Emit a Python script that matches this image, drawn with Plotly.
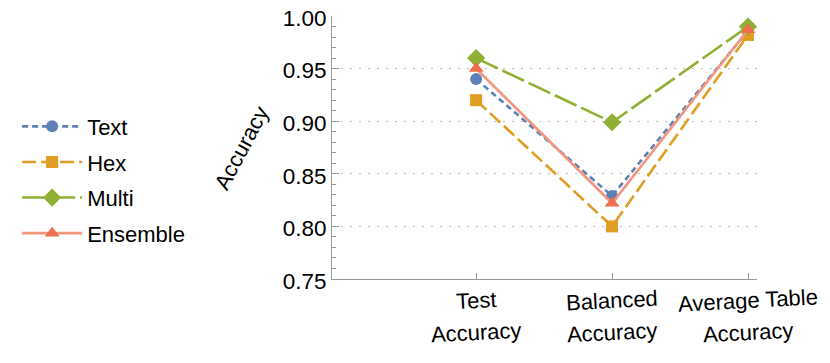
import plotly.graph_objects as go

categories = ["Test Accuracy", "Balanced Accuracy", "Average Table Accuracy"]
cat_line1 = ["Test", "Balanced", "Average Table"]
cat_line2 = ["Accuracy", "Accuracy", "Accuracy"]
positions = [1, 2, 3]

text_acc = [0.940, 0.829, 0.986]
hex_acc = [0.920, 0.800, 0.982]
multi_acc = [0.960, 0.899, 0.990]
ensemble_acc = [0.950, 0.822, 0.987]

font = "Liberation Sans, Arial, sans-serif"

fig = go.Figure()

series = [
    ("Text", text_acc, "#5E81B5", "#5E81B5", "6px,4px", "circle", 12),
    ("Hex", hex_acc, "#E19C24", "#E19C24", "14px,5px", "square", 12),
    ("Multi", multi_acc, "#8FB032", "#8FB032", "24px,5px", "diamond", 14),
    ("Ensemble", ensemble_acc, "#F3957D", "#EE6F4C", "solid", "triangle-up", 13),
]
for name, vals, lc, mc, dash, sym, size in series:
    fig.add_trace(go.Scatter(
        x=positions, y=vals, name=name, mode="lines+markers", legendgroup=name,
        line=dict(color=lc, width=2.6, dash=dash),
        marker=dict(color=mc, symbol=sym, size=size),
    ))

# two-line category labels under the x axis
for p, a, b in zip(positions, cat_line1, cat_line2):
    fig.add_annotation(x=p, y=-0.08, xref="x", yref="paper", text=a, showarrow=False,
                       textangle=-3, font=dict(size=22, family=font, color="black"),
                       xanchor="center", yanchor="middle")
    fig.add_annotation(x=p, y=-0.205, xref="x", yref="paper", text=b, showarrow=False,
                       textangle=-3, font=dict(size=22, family=font, color="black"),
                       xanchor="center", yanchor="middle")

# slanted y axis title
fig.add_annotation(xref="paper", yref="paper", x=(241 - 332) / 425, y=(279 - 148) / 263,
                   text="Accuracy", showarrow=False, textangle=-62,
                   xanchor="center", yanchor="middle",
                   font=dict(size=22, family=font, color="black"))

fig.update_layout(
    width=830, height=363,
    margin=dict(l=324, r=81, t=8, b=92, autoexpand=False),
    plot_bgcolor="white", paper_bgcolor="white",
    font=dict(family=font, size=22, color="black"),
    showlegend=True,
    legend=dict(xref="container", yref="container", x=0.011, y=0.526,
                xanchor="left", yanchor="middle", font=dict(size=22),
                itemwidth=60, tracegroupgap=4, bgcolor="rgba(0,0,0,0)"),
    xaxis=dict(range=[-0.06, 3.066], tickvals=positions, ticktext=["", "", ""],
               ticks="inside", ticklen=6, tickcolor="#999999", showgrid=False,
               showline=True, linecolor="#999999", linewidth=1, zeroline=False,
               automargin=False),
    yaxis=dict(range=[0.75, 1.0], dtick=0.05, tickformat=".2f",
               ticks="inside", ticklen=7, tickcolor="#999999",
               showline=True, linecolor="#999999", linewidth=1, zeroline=False,
               showgrid=True, gridcolor="#BDBDBD", griddash="2px,7px", gridwidth=1.2,
               tickfont=dict(size=22.5), automargin=False, ticklabeloverflow="allow",
               ticklabelshift=2,
               minor=dict(dtick=0.01, ticks="inside", ticklen=4, tickcolor="#999999",
                          showgrid=False)),
)

fig.write_html("out.html")
